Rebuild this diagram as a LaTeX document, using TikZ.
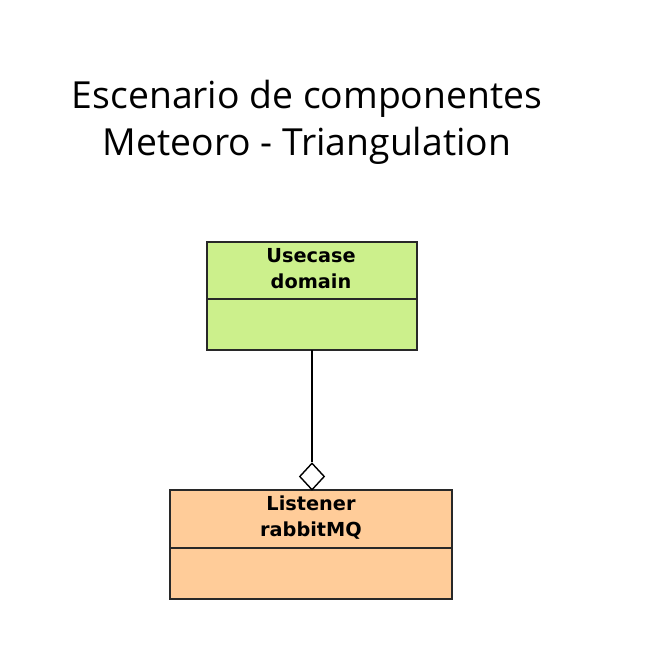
\documentclass[tikz,border=0pt]{standalone}
\usepackage{fontspec}
\setmainfont{DejaVu Sans}
\newfontfamily\titlefont{Open Sans}
\usetikzlibrary{shapes.geometric}
\definecolor{boxgreen}{RGB}{204,240,140}
\definecolor{boxorange}{RGB}{255,204,153}
\definecolor{edge}{RGB}{40,40,40}
\begin{document}
\begin{tikzpicture}[x=1pt,y=1pt,
  classbox/.style={draw=edge,line width=1.5pt},
  classname/.style={font=\bfseries\fontsize{19.3}{26}\selectfont,align=center,text=black},
  link/.style={draw=black,line width=1.4pt},
  aggr/.style={diamond,draw=black,fill=white,line width=1.4pt,minimum width=25pt,minimum height=27pt,inner sep=0pt}]
\useasboundingbox (0,0) rectangle (650,-667);
\node[font=\titlefont\fontsize{37.3}{47}\selectfont,align=center] (title) at (307,-122) {Escenario de componentes\\Meteoro - Triangulation};
% Usecase box
\path[classbox,fill=boxgreen] (207,-242) rectangle (417,-350);
\draw[classbox] (207,-299) -- (417,-299);
\node[classname] (uc) at (311,-269) {Usecase\\domain};
\coordinate (ucbot) at (312,-350);
% Listener box
\path[classbox,fill=boxorange] (170,-490) rectangle (452,-599);
\draw[classbox] (170,-548) -- (452,-548);
\node[classname] (ls) at (311,-518) {Listener\\rabbitMQ};
\node[aggr] (dia) at (312,-476.5) {};
\draw[link] (ucbot) -- (dia.north);
\end{tikzpicture}
\end{document}
